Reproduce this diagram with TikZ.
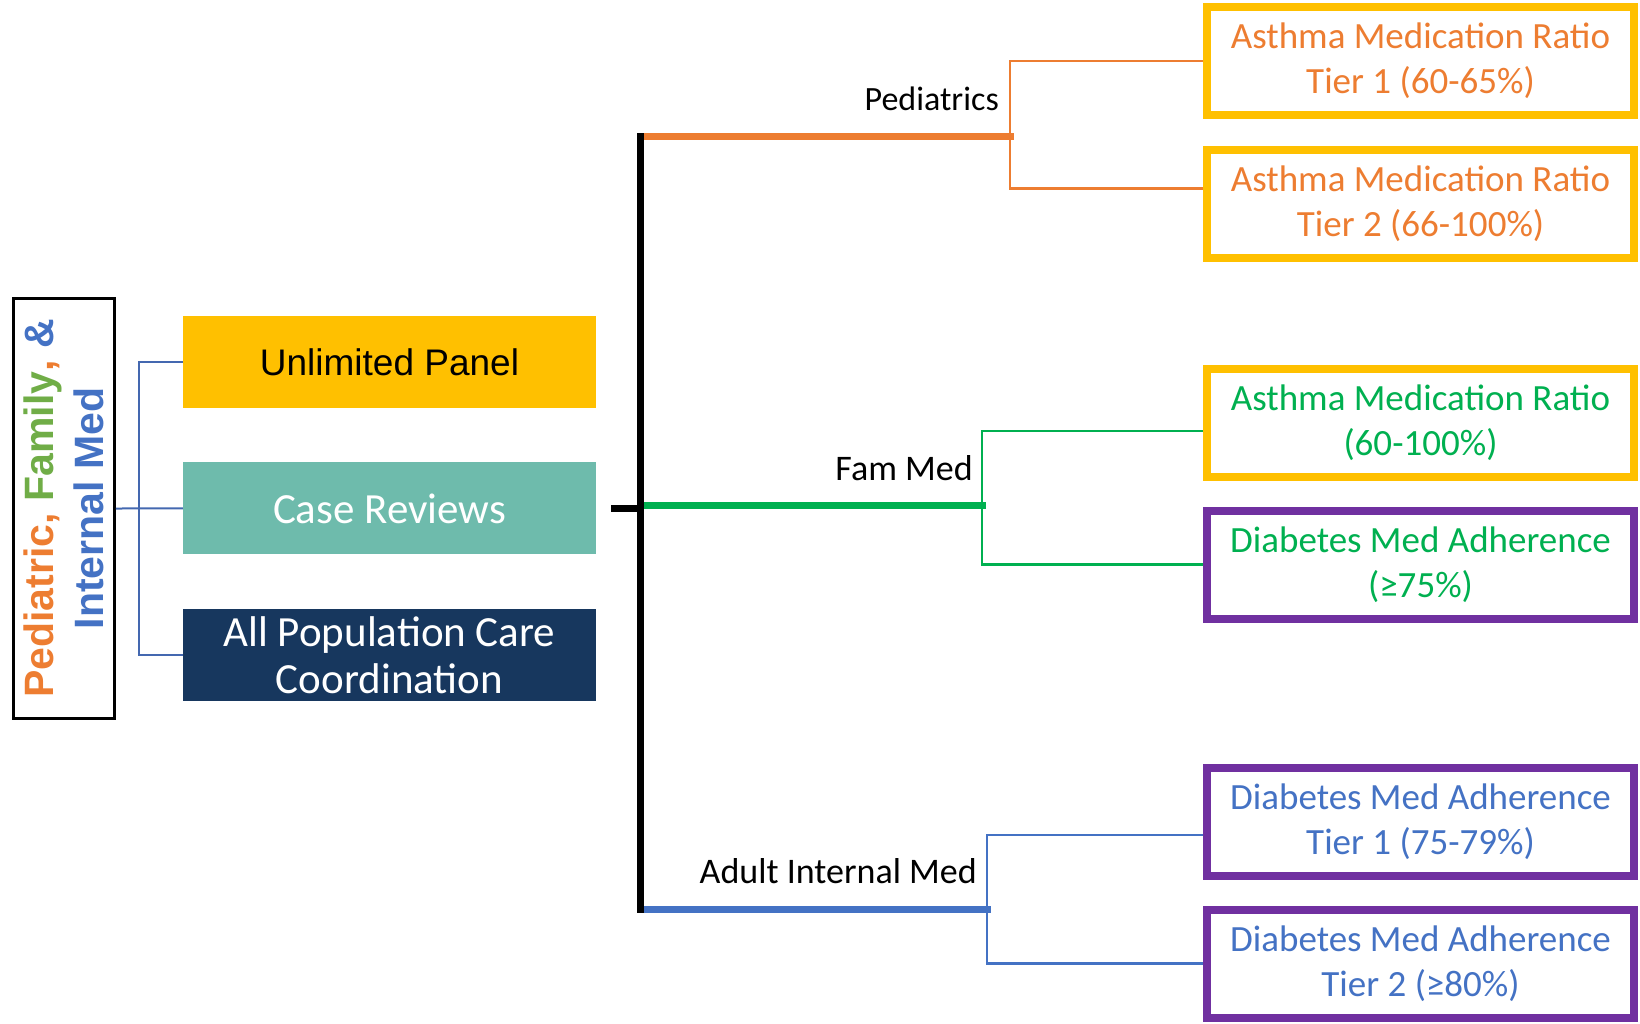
\documentclass[tikz,border=0pt]{standalone}
\usepackage{fontspec}
\setmainfont{Carlito}
\newfontfamily\arialf{Liberation Sans}
\usetikzlibrary{positioning}

\definecolor{ora}{HTML}{ED7D31}
\definecolor{fgrn}{HTML}{70AD47}
\definecolor{mgrn}{HTML}{00B050}
\definecolor{blu}{HTML}{4472C4}
\definecolor{gold}{HTML}{FFC000}
\definecolor{purp}{HTML}{7030A0}
\definecolor{tealbox}{HTML}{6EBBAC}
\definecolor{navy}{HTML}{17375E}
\definecolor{lbrc}{HTML}{4468B0}

\begin{document}
\begin{tikzpicture}[
  x=1pt, y=-1pt,
  node distance=54pt,
  midbox/.style={rectangle, minimum width=413pt, minimum height=92pt, inner sep=0pt,
                 align=center, text=white, font=\fontsize{43}{47}\selectfont},
  tierbox/.style={rectangle, draw, line width=8pt, fill=white, minimum width=427pt,
                  minimum height=108pt, inner sep=0pt, align=center,
                  font=\fontsize{37}{45}\selectfont},
  lab/.style={anchor=base east, inner sep=0pt, font=\fontsize{36}{40}\selectfont},
  trunk/.style={line width=7pt, line cap=rect},
  brthick/.style={line width=7pt, line cap=rect},
  brthin/.style={line width=2.5pt},
  lbr/.style={line width=2pt, draw=lbrc},
]
\useasboundingbox (0,0) rectangle (1640,1023);

%% Nodes
\node[draw, line width=2.5pt, rotate=90, minimum width=420pt, minimum height=101pt,
      inner sep=0pt, align=center, font=\arialf\bfseries\fontsize{41}{50}\selectfont]
      (title) at (64,508.5)
      {\textcolor{ora}{Pediatric,} \textcolor{fgrn}{Family}\textcolor{ora}{,} \textcolor{blu}{\&}\\
       \textcolor{blu}{Internal Med}};

\node[midbox, fill=gold, text=black, font=\arialf\fontsize{37}{42}\selectfont]
      (panel) at (389.5,362) {Unlimited Panel};
\node[midbox, fill=tealbox, below=of panel] (case) {Case Reviews};
\node[midbox, fill=navy, below=of case]     (pop)  {All Population Care\\Coordination};

\node[lab, font=\fontsize{34}{40}\selectfont] (pedlab) at (999,110) {Pediatrics};
\node[lab] (famlab) at (973,480) {Fam Med};
\node[lab] (adlab)  at (977,883) {Adult Internal Med};

\node[tierbox, draw=gold, text=ora]  (a1) at (1420.5,61)    {Asthma Medication Ratio\\Tier 1 (60-65\%)};
\node[tierbox, draw=gold, text=ora]  (a2) at (1420.5,203.5) {Asthma Medication Ratio\\Tier 2 (66-100\%)};
\node[tierbox, draw=gold, text=mgrn] (a3) at (1420.5,423)   {Asthma Medication Ratio\\(60-100\%)};
\node[tierbox, draw=purp, text=mgrn] (d1) at (1420.5,564.5) {Diabetes Med Adherence\\(≥75\%)};
\node[tierbox, draw=purp, text=blu]  (d2) at (1420.5,822)   {Diabetes Med Adherence\\Tier 1 (75-79\%)};
\node[tierbox, draw=purp, text=blu]  (d3) at (1420.5,963.5) {Diabetes Med Adherence\\Tier 2 (≥80\%)};

%% Junctions
\coordinate (ttop) at (640,136);
\coordinate (tbot) at (640,909);
\coordinate (pedj) at (1010,136);
\coordinate (famj) at (982,505);
\coordinate (adj)  at (987,909);

%% Left bracket
\draw[lbr] (title.south) -- (case.west);
\draw[lbr] (panel.west) -- ++(-44,0) |- (pop.west);

%% Branches
\draw[brthin, draw=ora]  (a1.west) -| (pedj) |- ([yshift=15pt]a2.west);
\draw[brthin, draw=mgrn] ([yshift=-8pt]a3.west) -| (famj) |- (d1.west);
\draw[brthin, draw=blu]  ([yshift=-13pt]d2.west) -| (adj) |- (d3.west);

\draw[brthick, draw=ora]  (ttop) -- (pedj);
\draw[brthick, draw=mgrn] (ttop |- famj) -- (famj);
\draw[brthick, draw=blu]  (tbot) -- (adj);

%% Trunk
\draw[trunk] ([xshift=18pt]case.east) -- (case.east -| ttop);
\draw[trunk] (ttop) -- (tbot);

\end{tikzpicture}
\end{document}
